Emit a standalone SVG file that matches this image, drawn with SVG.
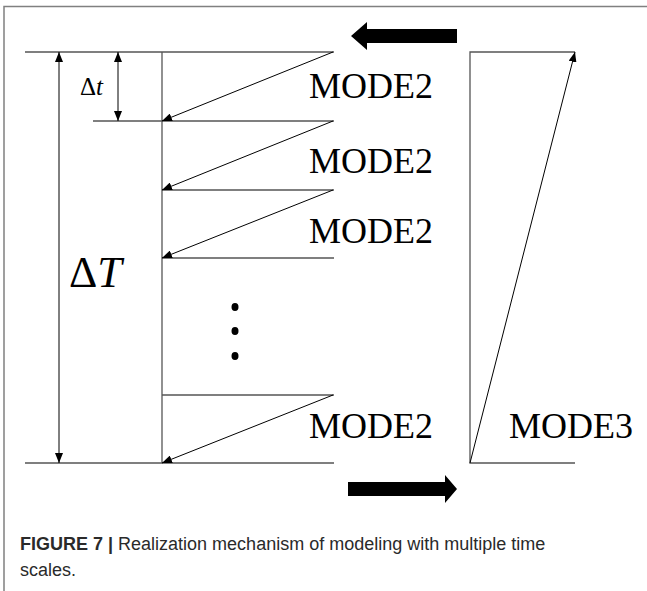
<svg xmlns="http://www.w3.org/2000/svg" width="647" height="591" viewBox="0 0 647 591">
<style>
.frame{stroke:#808080;stroke-width:1.5;fill:none}
.hl{stroke:#555;stroke-width:1.3;fill:none}
.dl{stroke:#000;stroke-width:1;fill:none}
.lbl{font-family:"Liberation Serif","Times New Roman",serif;font-size:36px;fill:#000}
.cap{font-family:"Liberation Sans",Arial,sans-serif;font-size:18px;fill:#2a2a2a}
</style>
<defs>
<marker id="ah" viewBox="0 0 10 8" refX="10" refY="4" markerWidth="10" markerHeight="8" markerUnits="userSpaceOnUse" orient="auto">
<path d="M0,0 L10,4 L0,8 Z" fill="#000"/>
</marker>
</defs>
<rect width="647" height="591" fill="#fff"/>
<path class="frame" d="M4,591 V6.5 H647"/>
<g id="timelines">
<line class="hl" x1="25" y1="52" x2="334" y2="52"/>
<line class="hl" x1="93" y1="121" x2="334" y2="121"/>
<line class="hl" x1="162" y1="190" x2="334" y2="190"/>
<line class="hl" x1="162" y1="258" x2="334" y2="258"/>
<line class="hl" x1="162" y1="395" x2="334" y2="395"/>
<line class="hl" x1="25" y1="463" x2="334" y2="463"/>
<line class="hl" x1="162" y1="52" x2="162" y2="463"/>
</g>
<g id="mode3-block">
<path class="hl" d="M575,52 H470 V463 H575"/>
</g>
<g id="connectors">
<line class="dl" x1="333" y1="52" x2="162" y2="121" marker-end="url(#ah)"/>
<line class="dl" x1="333" y1="121" x2="162" y2="190" marker-end="url(#ah)"/>
<line class="dl" x1="333" y1="190" x2="162" y2="258" marker-end="url(#ah)"/>
<line class="dl" x1="333" y1="395" x2="162" y2="463" marker-end="url(#ah)"/>
<line class="dl" x1="470" y1="463" x2="575" y2="52" marker-end="url(#ah)"/>
<line class="dl" x1="59" y1="258" x2="59" y2="52" marker-end="url(#ah)"/>
<line class="dl" x1="59" y1="258" x2="59" y2="463" marker-end="url(#ah)"/>
<line class="dl" x1="118" y1="86" x2="118" y2="52" marker-end="url(#ah)"/>
<line class="dl" x1="118" y1="86" x2="118" y2="121" marker-end="url(#ah)"/>
</g>
<g id="labels">
<text class="lbl" x="309" y="98">MODE2</text>
<text class="lbl" x="309" y="173">MODE2</text>
<text class="lbl" x="309" y="243">MODE2</text>
<text class="lbl" x="309" y="438">MODE2</text>
<text class="lbl" x="509" y="438">MODE3</text>
<text x="80" y="95" font-family="Liberation Serif, serif" font-size="25">Δ<tspan font-style="italic">t</tspan></text>
<text x="69" y="287" font-family="Liberation Serif, serif" font-size="44">Δ<tspan font-style="italic">T</tspan></text>
</g>
<g id="dots" fill="#000">
<ellipse cx="235" cy="307" rx="3.5" ry="4"/>
<ellipse cx="235" cy="331" rx="3.5" ry="4"/>
<ellipse cx="235" cy="356" rx="3.5" ry="4"/>
</g>
<g id="block-arrows" fill="#000">
<polygon points="351,36 367,22 367,29 457,29 457,43 367,43 367,50"/>
<polygon points="348,482 445,482 445,475 457,489 445,503 445,496 348,496"/>
</g>
<g id="caption">
<text class="cap" x="20" y="550"><tspan font-weight="bold">FIGURE 7 | </tspan>Realization mechanism of modeling with multiple time</text>
<text class="cap" x="20" y="576">scales.</text>
</g>
</svg>
